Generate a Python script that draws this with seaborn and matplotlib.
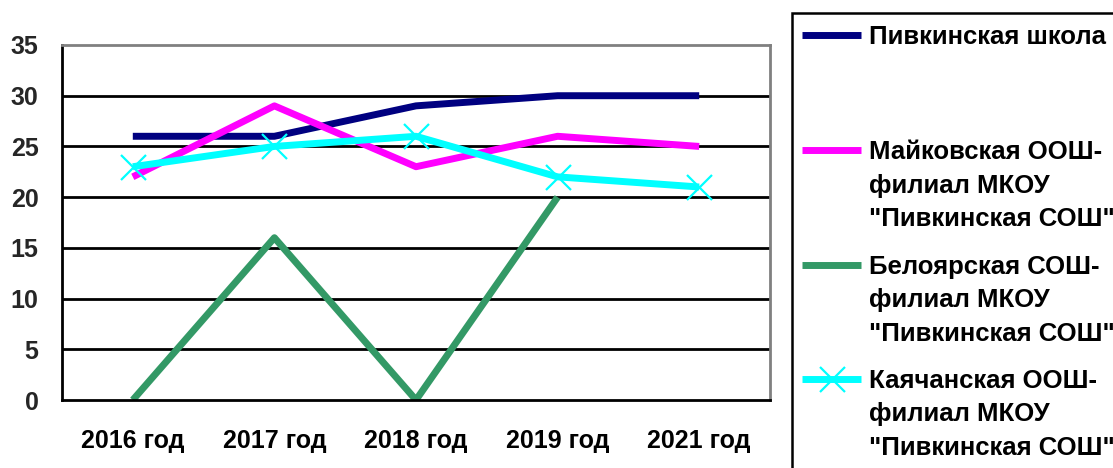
import matplotlib
matplotlib.use("Agg")
import matplotlib.pyplot as plt
import seaborn as sns
import numpy as np
import pandas as pd
from matplotlib.lines import Line2D
from matplotlib.patches import Rectangle

categories = ["2016 год", "2017 год", "2018 год", "2019 год", "2021 год"]
pivkinskaya = [26, 26, 29, 30, 30]
maykovskaya = [22, 29, 23, 26, 25]
beloyarskaya = [0, 16, 0, 20, np.nan]
kayachanskaya = [23, 25, 26, 22, 21]

series_names = [
    "Пивкинская школа",
    "Майковская ООШ-\nфилиал МКОУ\n\"Пивкинская СОШ\"",
    "Белоярская СОШ-\nфилиал МКОУ\n\"Пивкинская СОШ\"",
    "Каячанская ООШ-\nфилиал МКОУ\n\"Пивкинская СОШ\"",
]
series_values = [pivkinskaya, maykovskaya, beloyarskaya, kayachanskaya]
colors = ["#000080", "#FF00FF", "#339966", "#00FFFF"]
markers = [None, None, None, "x"]
yticks = list(range(0, 36, 5))

sns.set_theme(style="white")
plt.rcParams["font.family"] = ["Liberation Sans", "DejaVu Sans"]
plt.rcParams["font.weight"] = "bold"

W, H = 1113, 468
fig = plt.figure(figsize=(W / 100, H / 100), dpi=100)
ax = fig.add_axes([62 / W, 1 - 400 / H, (770 - 62) / W, (400 - 45) / H])

x = np.arange(len(categories))
for name, vals, c, m in zip(series_names, series_values, colors, markers):
    df = pd.DataFrame({"x": x, "y": vals}).dropna()
    sns.lineplot(data=df, x="x", y="y", ax=ax, color=c, linewidth=5,
                 marker=m, markersize=18 if m else 0, markeredgewidth=1.6,
                 markeredgecolor=c, legend=False, solid_capstyle="butt")

ax.set_xlim(-0.5, len(categories) - 0.5)
ax.set_ylim(0, 35)
ax.set_yticks(yticks)
ax.set_yticklabels([str(v) for v in yticks], fontsize=18, fontweight="bold")
ax.set_xticks(x)
ax.set_xticklabels(categories, fontsize=18, fontweight="bold")
ax.set_xticks(np.arange(-0.5, len(categories), 1.0), minor=True)
ax.tick_params(axis="x", which="major", length=0, pad=21, colors="black")
ax.tick_params(axis="x", which="minor", length=6, width=1.5, color="black", direction="out")
ax.tick_params(axis="y", which="major", length=7, width=1.5, color="black", direction="out", pad=10)
ax.set_xlabel("")
ax.set_ylabel("")
ax.grid(False)
for v in yticks[1:-1]:
    ax.axhline(v, color="black", linewidth=2, zorder=0.5)
for s in ["top", "right"]:
    ax.spines[s].set_color("#808080")
    ax.spines[s].set_linewidth(2)
for s in ["left", "bottom"]:
    ax.spines[s].set_color("black")
    ax.spines[s].set_linewidth(2)

def fx(px):
    return px / W

def fy(py):
    return 1 - py / H

fig.add_artist(Rectangle((fx(792), fy(480)), fx(400), 467 / H, transform=fig.transFigure,
                         fill=False, edgecolor="black", linewidth=1.8))
entry_y = [34.5, 150, 265, 379]
for name, c, m, yy in zip(series_names, colors, markers, entry_y):
    fig.add_artist(Line2D([fx(802), fx(861)], [fy(yy), fy(yy)], transform=fig.transFigure,
                          color=c, linewidth=5, solid_capstyle="butt"))
    if m:
        fig.add_artist(Line2D([fx(831.5)], [fy(yy)], transform=fig.transFigure,
                              color=c, marker=m, markersize=18, markeredgewidth=1.6))
    fig.text(fx(869), fy(yy - 10), name, fontsize=18.5, fontweight="bold", va="top",
             ha="left", linespacing=1.5, color="black")

fig.savefig("out.png", dpi=100)
